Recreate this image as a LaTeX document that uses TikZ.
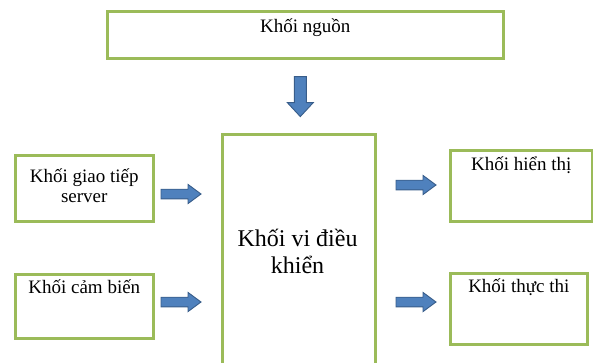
\documentclass[tikz,border=0pt]{standalone}
\usepackage{fontspec}
\setmainfont{Liberation Serif}
\usetikzlibrary{calc}
\definecolor{boxgreen}{HTML}{9BBB59}
\definecolor{arrowfill}{HTML}{4F81BD}
\definecolor{arrowline}{HTML}{385D8A}
\tikzset{
  blk/.style={draw=boxgreen, line width=2.6pt, rectangle, inner sep=0pt, anchor=north west},
  lbl/.style={inner sep=0pt, anchor=base, align=center, font=\fontsize{19}{20}\selectfont},
  biglbl/.style={inner sep=0pt, anchor=base, align=center, font=\fontsize{24}{27}\selectfont},
  arrowstyle/.style={fill=arrowfill, draw=arrowline, line width=0.9pt, line join=miter},
  harrow/.pic={\path[arrowstyle] (0,-4.8) -- (27,-4.8) -- (27,-9.6) -- (40,0) -- (27,9.6) -- (27,4.8) -- (0,4.8) -- cycle;},
  varrow/.pic={\path[arrowstyle] (-6,0) -- (-6,26) -- (-13,26) -- (0,40) -- (13,26) -- (6,26) -- (6,0) -- cycle;}
}
\begin{document}
\begin{tikzpicture}[x=1pt,y=-1pt]
\useasboundingbox (0,0) rectangle (593,362);
\clip (0,0) rectangle (593,362);
% boxes
\node[blk, minimum width=396pt, minimum height=47pt] (nguon) at (106,10) {};
\node[blk, minimum width=153pt, minimum height=245pt] (vdk) at (221,133) {};
\node[blk, minimum width=138pt, minimum height=66pt] (giao) at (14,154) {};
\node[blk, minimum width=138pt, minimum height=64pt] (cam) at (14,273) {};
\node[blk, minimum width=142pt, minimum height=71pt] (hien) at (449,149) {};
\node[blk, minimum width=137pt, minimum height=71pt] (thuc) at (449,272) {};
% labels
\node[lbl] (tnguon) at ([yshift=-22pt]nguon.north) {Khối nguồn};
\node[lbl] (tgiao) at ([yshift=-48pt]giao.north) {Khối giao tiếp\\server};
\node[lbl] (tcam) at ([yshift=-20pt]cam.north) {Khối cảm biến};
\node[lbl] (thien) at ([yshift=-21pt]hien.north) {Khối hiển thị};
\node[lbl] (tthuc) at ([yshift=-20pt]thuc.north) {Khối thực thi};
\node[biglbl] (tvdk) at (297.5,273) {Khối vi điều\\khiển};
% connector arrows
\coordinate (a1) at ($(nguon.south)+(-5,17)$);
\coordinate (a2) at (161,194);
\coordinate (a3) at (161,302);
\coordinate (a4) at (396,185);
\coordinate (a5) at (396,302);
\pic at (a1) {varrow};
\pic at (a2) {harrow};
\pic at (a3) {harrow};
\pic at (a4) {harrow};
\pic at (a5) {harrow};
\end{tikzpicture}
\end{document}
